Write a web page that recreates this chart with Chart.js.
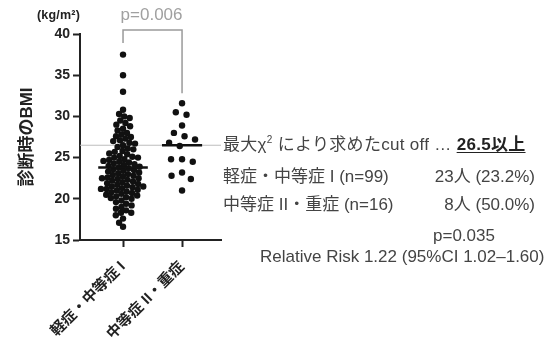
<!DOCTYPE html>
<html>
<head>
<meta charset="utf-8">
<script src="https://cdn.jsdelivr.net/npm/chart.js@4.4.1/dist/chart.umd.min.js"></script>
<style>
  html,body{margin:0;padding:0;background:#fff;}
  #wrap{position:relative;width:552px;height:340px;overflow:hidden;}
  #c{position:absolute;left:0;top:0;}
  .t{position:absolute;white-space:nowrap;font-family:"Liberation Sans","Noto Sans CJK JP",sans-serif;font-size:17px;line-height:20px;color:#444;}
  .r{text-align:right;}
  sup{font-size:10px;line-height:0;vertical-align:7px;}
  .unit{font-size:12.5px;font-weight:bold;color:#222;letter-spacing:0.2px;}
</style>
</head>
<body>
<div id="wrap">
  <canvas id="c" width="552" height="340"></canvas>
  <div class="t unit" style="left:37px;top:5px;">(kg/m²)</div>
  <div class="t" style="left:223px;top:135px;letter-spacing:0.3px;">最大χ<sup>2</sup> により求めたcut off … <b style="color:#222;text-decoration:underline;text-underline-offset:2px;">26.5以上</b></div>
  <div class="t" style="left:223px;top:167px;">軽症・中等症 I (n=99)</div>
  <div class="t r" style="right:17px;top:167px;">23人 (23.2%)</div>
  <div class="t" style="left:223px;top:195px;">中等症 II・重症 (n=16)</div>
  <div class="t r" style="right:17px;top:195px;">8人 (50.0%)</div>
  <div class="t" style="left:433px;top:226px;">p=0.035</div>
  <div class="t" style="left:260px;top:247px;">Relative Risk 1.22 (95%CI 1.02–1.60)</div>
</div>
<script>
// ---- data ----
const categories = ['軽症・中等症 I', '中等症 II・重症'];
const mildBMI = [
  37.5, 35.0, 33.0, 30.8, 30.3, 30.0, 29.8, 29.5, 29.2, 29.0,
  28.8, 28.5, 28.3, 28.0, 27.8, 27.6, 27.5, 27.3, 27.1, 27.0,
  26.8, 26.7, 26.5,
  26.3, 26.1, 26.0, 25.8, 25.7, 25.5, 25.4, 25.2, 25.0, 25.0,
  24.8, 24.7, 24.5, 24.4, 24.2, 24.1, 24.0, 23.9, 23.8, 23.6,
  23.5, 23.4, 23.3, 23.2, 23.1, 23.0, 22.9, 22.8, 22.7, 22.6,
  22.5, 22.4, 22.3, 22.2, 22.1, 22.0, 21.9, 21.8, 21.7, 21.6,
  21.5, 21.4, 21.3, 21.2, 21.1, 21.0, 20.9, 20.8, 20.7, 20.6,
  20.5, 20.4, 20.3, 20.2, 20.0, 19.8, 19.6, 19.4, 19.2, 19.0,
  18.8, 18.6, 18.3, 18.0, 17.6, 17.1, 16.6,
  25.1, 24.6, 24.3, 23.7, 22.5, 21.5, 21.2, 20.1, 18.3
];
const severeBMI = [
  31.6, 30.2, 30.5, 28.9, 28.0, 27.6, 27.2, 26.8, 26.4,
  24.8, 24.5, 24.8, 23.2, 22.4, 22.8, 21.0
];
const centerLines = [23.8, 26.5];
const cutoff = 26.5;
const yMin = 15, yMax = 40, yStep = 5;
const groupP = 'p=0.006';

// ---- styles ----
const X_MIN = 0.271, X_MAX = 2.66;
const lineHalfWidth = [0.42, 0.34];
const swarmDist = [5.7, 11];

const fontFam = '"Liberation Sans","Noto Sans CJK JP",sans-serif';

const bracketPlugin = {
  id: 'bracket',
  afterDatasetsDraw(chart) {
    const {ctx, scales: {x, y}} = chart;
    const x1 = x.getPixelForValue(1), x2 = x.getPixelForValue(2);
    const top = 30;
    const y1 = 43;
    const y2 = y.getPixelForValue(Math.max(...severeBMI)) - 10;
    ctx.save();
    ctx.strokeStyle = '#9a9a9a';
    ctx.lineWidth = 1.5;
    ctx.beginPath();
    ctx.moveTo(x1, y1); ctx.lineTo(x1, top); ctx.lineTo(x2, top); ctx.lineTo(x2, y2);
    ctx.stroke();
    ctx.fillStyle = '#a0a0a0';
    ctx.font = '17px ' + fontFam;
    ctx.textAlign = 'center';
    ctx.textBaseline = 'middle';
    ctx.fillText(groupP, (x1 + x2) / 2 - 1, 15);
    ctx.restore();
  }
};

const groups = [mildBMI, severeBMI];
const datasets = [
  {
    type: 'line', data: [{x: X_MIN, y: cutoff}, {x: X_MAX, y: cutoff}],
    borderColor: '#bdbdbd', borderWidth: 1, pointRadius: 0, order: 5
  }
];
groups.forEach((g, i) => {
  datasets.push({
    type: 'scatter',
    data: g.map(v => ({x: i + 1, y: v})),
    backgroundColor: '#111', borderColor: '#111', borderWidth: 0,
    pointRadius: 3.2, pointHoverRadius: 3.2, order: 2
  });
});
centerLines.forEach((m, i) => {
  datasets.push({
    type: 'line',
    data: [{x: i + 1 - lineHalfWidth[i], y: m}, {x: i + 1 + lineHalfWidth[i], y: m}],
    borderColor: '#111', borderWidth: 2.5, pointRadius: 0, order: 1
  });
});

const chart = new Chart(document.getElementById('c'), {
  data: {datasets},
  options: {
    responsive: false,
    animation: false,
    devicePixelRatio: 1,
    events: [],
    layout: {padding: {left: 0, top: 34, right: 331, bottom: 0}},
    plugins: {legend: {display: false}, tooltip: {enabled: false}},
    scales: {
      x: {
        type: 'linear', min: X_MIN, max: X_MAX,
        afterFit(s) { s.height = 100; },
        afterBuildTicks(s) { s.ticks = categories.map((c, i) => ({value: i + 1})); },
        ticks: {
          autoSkip: false, minRotation: 45, maxRotation: 45, padding: 11,
          color: '#222', font: {family: fontFam, size: 15, weight: 'bold'},
          callback: (v) => categories[Math.round(v) - 1] || ''
        },
        grid: {drawOnChartArea: false, drawTicks: true, tickLength: 7, tickWidth: 2, tickColor: '#222', color: '#222'},
        border: {display: true, width: 2, color: '#222'}
      },
      y: {
        type: 'linear', min: yMin, max: yMax,
        afterFit(s) { s.width = 80; },
        ticks: {
          stepSize: yStep, padding: 3, color: '#222',
          font: {family: fontFam, size: 14, weight: 'bold'}
        },
        title: {
          display: true, text: '診断時のBMI', color: '#222',
          font: {family: fontFam, size: 17, weight: 'bold'},
          padding: {top: 17, bottom: 0}
        },
        grid: {drawOnChartArea: false, drawTicks: true, tickLength: 7, tickWidth: 2, tickColor: '#222', color: '#222'},
        border: {display: true, width: 2, color: '#222'}
      }
    }
  },
  plugins: [bracketPlugin]
});

// ---- beeswarm layout computed from the scales ----
function swarm(values, yPix, d) {
  const idx = values.map((v, i) => i).sort((a, b) => values[b] - values[a]);
  const placed = [];
  const off = new Array(values.length).fill(0);
  for (const i of idx) {
    const y = yPix(values[i]);
    const near = placed.filter(p => Math.abs(p.y - y) < d);
    const cands = [0];
    near.forEach(p => {
      const dx = Math.sqrt(d * d - (p.y - y) * (p.y - y));
      cands.push(p.x - dx, p.x + dx);
    });
    cands.sort((a, b) => Math.abs(a) - Math.abs(b) || a - b);
    let best = 0;
    for (const c of cands) {
      if (near.every(p => Math.hypot(p.x - c, p.y - y) >= d - 1e-6)) { best = c; break; }
    }
    off[i] = best;
    placed.push({x: best, y});
  }
  return off;
}
const xs = chart.scales.x, ys = chart.scales.y;
groups.forEach((g, gi) => {
  const cx = xs.getPixelForValue(gi + 1);
  const off = swarm(g, v => ys.getPixelForValue(v), swarmDist[gi]);
  chart.data.datasets[1 + gi].data = g.map((v, k) => ({x: xs.getValueForPixel(cx + off[k]), y: v}));
});
chart.update('none');
</script>
</body>
</html>
